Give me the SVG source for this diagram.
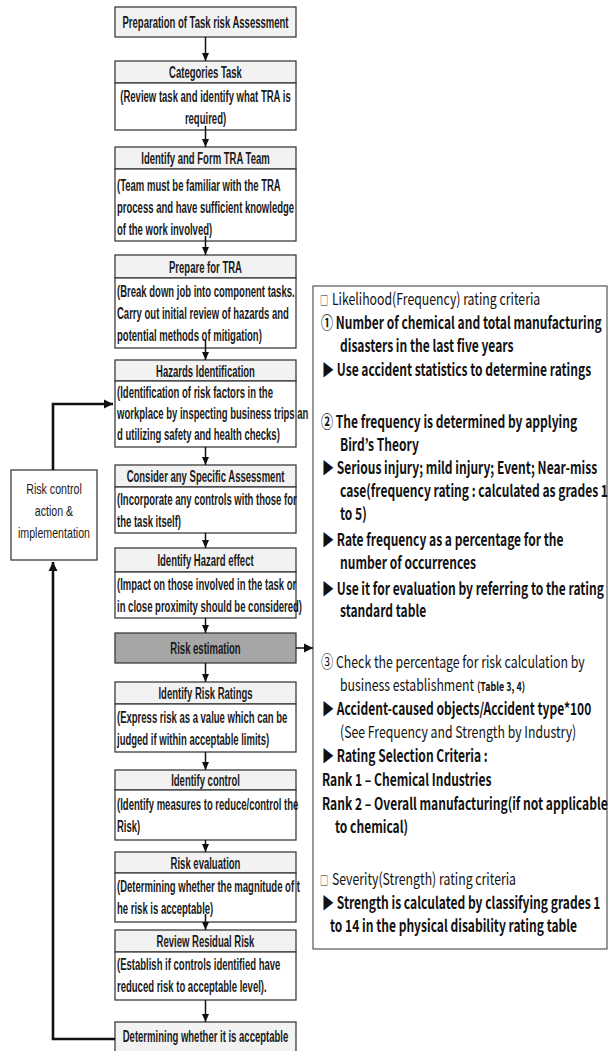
<svg xmlns="http://www.w3.org/2000/svg" width="610" height="1051" viewBox="0 0 610 1051">
<style>
.bx{fill:#ffffff;stroke:#3c3c3c;stroke-width:1.3}
.tt{fill:#f2f2f2;stroke:#3c3c3c;stroke-width:1.3}
.gr{fill:#a6a6a6;stroke:#3c3c3c;stroke-width:1.3}
.f{font-family:"Liberation Sans",Arial,sans-serif;font-size:16px;font-weight:bold;fill:#1a1a1a}
.c{text-anchor:middle;transform:matrix(.595,0,0,1,83.23,0)}
.l{transform:matrix(.595,0,0,1,47.39,0)}
.lc{font-family:"Liberation Sans",Arial,sans-serif;font-size:14px;fill:#1a1a1a;text-anchor:middle;transform:matrix(.76,0,0,1,12.96,0)}
.cn{stroke:#111;stroke-width:1.5;fill:none}
.fb{stroke:#111;stroke-width:2.6;fill:none}
.r{font-family:"Noto Sans CJK KR","Malgun Gothic",sans-serif;font-size:16.5px;fill:#111;transform-box:fill-box;transform-origin:0 0;transform:scaleX(.745)}
.b{font-weight:bold;transform:scaleX(.73)}
.sq{font-size:11px}
.sm{font-size:12px;font-weight:bold}
</style>
<defs>
<marker id="ah" markerUnits="userSpaceOnUse" markerWidth="8" markerHeight="8" refX="8" refY="4" orient="auto">
<path d="M0,0.5 L8,4 L0,7.5 z" fill="#111"/>
</marker>
<marker id="ahb" markerUnits="userSpaceOnUse" markerWidth="10" markerHeight="10" refX="9" refY="5" orient="auto">
<path d="M0,0.5 L9,5 L0,9.5 z" fill="#111"/>
</marker>
</defs>
<g id="n1">
<rect class="tt" x="115" y="7" width="181" height="30"/>
<text class="f c" x="205.5" y="28">Preparation of Task risk Assessment</text>
</g>
<g id="n2">
<rect class="tt" x="115" y="61" width="181" height="22"/>
<rect class="bx" x="115" y="83" width="181" height="47"/>
<text class="f c" x="205.5" y="78">Categories Task</text>
<text class="f c" x="205.5" y="102">(Review task and identify what TRA is</text>
<text class="f c" x="205.5" y="124">required)</text>
</g>
<g id="n3">
<rect class="tt" x="115" y="147" width="181" height="22"/>
<rect class="bx" x="115" y="169" width="181" height="72"/>
<text class="f c" x="205.5" y="164">Identify and Form TRA Team</text>
<text class="f l" x="117" y="191">(Team must be familiar with the TRA</text>
<text class="f l" x="117" y="213">process and have sufficient knowledge</text>
<text class="f l" x="117" y="235">of the work involved)</text>
</g>
<g id="n4">
<rect class="tt" x="115" y="255" width="181" height="23"/>
<rect class="bx" x="115" y="278" width="181" height="70"/>
<text class="f c" x="205.5" y="273">Prepare for TRA</text>
<text class="f l" x="117" y="297">(Break down job into component tasks.</text>
<text class="f l" x="117" y="319">Carry out initial review of hazards and</text>
<text class="f l" x="117" y="341">potential methods of mitigation)</text>
</g>
<g id="n5">
<rect class="tt" x="115" y="360" width="181" height="21"/>
<rect class="bx" x="115" y="381" width="181" height="66"/>
<text class="f c" x="205.5" y="377">Hazards Identification</text>
<text class="f l" x="117" y="398">(Identification of risk factors in the</text>
<text class="f l" x="117" y="419">workplace by inspecting business trips an</text>
<text class="f l" x="117" y="440">d utilizing safety and health checks)</text>
</g>
<g id="n6">
<rect class="tt" x="115" y="465" width="181" height="22"/>
<rect class="bx" x="115" y="487" width="181" height="46"/>
<text class="f c" x="205.5" y="482">Consider any Specific Assessment</text>
<text class="f l" x="117" y="505">(Incorporate any controls with those for</text>
<text class="f l" x="117" y="527">the task itself)</text>
</g>
<g id="n7">
<rect class="tt" x="115" y="548" width="181" height="24"/>
<rect class="bx" x="115" y="572" width="181" height="46"/>
<text class="f c" x="205.5" y="566">Identify Hazard effect</text>
<text class="f l" x="117" y="590">(Impact on those involved in the task or</text>
<text class="f l" x="117" y="612">in close proximity should be considered)</text>
</g>
<g id="n8">
<rect class="gr" x="115" y="633" width="181" height="30"/>
<text class="f c" x="205.5" y="654">Risk estimation</text>
</g>
<g id="n9">
<rect class="tt" x="115" y="682" width="181" height="22"/>
<rect class="bx" x="115" y="704" width="181" height="48"/>
<text class="f c" x="205.5" y="699">Identify Risk Ratings</text>
<text class="f l" x="117" y="723">(Express risk as a value which can be</text>
<text class="f l" x="117" y="745">judged if within acceptable limits)</text>
</g>
<g id="n10">
<rect class="tt" x="115" y="770" width="181" height="20"/>
<rect class="bx" x="115" y="790" width="181" height="50"/>
<text class="f c" x="205.5" y="786">Identify control</text>
<text class="f l" x="117" y="810">(Identify measures to reduce/control the</text>
<text class="f l" x="117" y="832">Risk)</text>
</g>
<g id="n11">
<rect class="tt" x="115" y="852" width="181" height="21"/>
<rect class="bx" x="115" y="873" width="181" height="49"/>
<text class="f c" x="205.5" y="869">Risk evaluation</text>
<text class="f l" x="117" y="892">(Determining whether the magnitude of t</text>
<text class="f l" x="117" y="914">he risk is acceptable)</text>
</g>
<g id="n12">
<rect class="tt" x="115" y="930" width="181" height="22"/>
<rect class="bx" x="115" y="952" width="181" height="48"/>
<text class="f c" x="205.5" y="947">Review Residual Risk</text>
<text class="f l" x="117" y="970">(Establish if controls identified have</text>
<text class="f l" x="117" y="992">reduced risk to acceptable level).</text>
</g>
<g id="n13">
<rect class="tt" x="115" y="1022" width="181" height="34"/>
<text class="f c" x="205.5" y="1042">Determining whether it is acceptable</text>
</g>
<g id="n14">
<rect class="bx" x="11" y="470" width="86" height="90"/>
<text class="lc" x="54" y="494">Risk control</text>
<text class="lc" x="54" y="516">action &amp;</text>
<text class="lc" x="54" y="538">implementation</text>
</g>
<g id="n15">
<rect x="313" y="286" width="294" height="663" fill="#fff" stroke="#555" stroke-width="1.2"/>
<text class="r" x="320" y="305"><tspan class="sq">□</tspan><tspan x="336">Likelihood(Frequency) rating criteria</tspan></text>
<text class="r b" x="321" y="329">① Number of chemical and total manufacturing</text>
<text class="r b" x="340" y="352">disasters in the last five years</text>
<text class="r b" x="322" y="376">▶ Use accident statistics to determine ratings</text>
<text class="r b" x="321" y="428">② The frequency is determined by applying</text>
<text class="r b" x="340" y="451">Bird’s Theory</text>
<text class="r b" x="322" y="474">▶ Serious injury; mild injury; Event; Near-miss</text>
<text class="r b" x="340" y="497">case(frequency rating : calculated as grades 1</text>
<text class="r b" x="340" y="520">to 5)</text>
<text class="r b" x="322" y="546">▶ Rate frequency as a percentage for the</text>
<text class="r b" x="340" y="569">number of occurrences</text>
<text class="r b" x="322" y="595">▶ Use it for evaluation by referring to the rating</text>
<text class="r b" x="340" y="617">standard table</text>
<text class="r" x="321" y="668">③ Check the percentage for risk calculation by</text>
<text class="r" x="340" y="691">business establishment <tspan class="sm">(Table 3, 4)</tspan></text>
<text class="r b" x="322" y="715">▶ Accident-caused objects/Accident type*100</text>
<text class="r" x="340" y="738">(See Frequency and Strength by Industry)</text>
<text class="r b" x="322" y="762">▶ Rating Selection Criteria :</text>
<text class="r b" x="322" y="786">Rank 1 – Chemical Industries</text>
<text class="r b" x="322" y="810">Rank 2 – Overall manufacturing(if not applicable</text>
<text class="r b" x="335" y="833">to chemical)</text>
<text class="r" x="320" y="885"><tspan class="sq">□</tspan><tspan x="336">Severity(Strength) rating criteria</tspan></text>
<text class="r b" x="322" y="909">▶ Strength is calculated by classifying grades 1</text>
<text class="r b" x="330" y="932">to 14 in the physical disability rating table</text>
</g>
<g id="connectors">
<line class="cn" x1="205.5" y1="37" x2="205.5" y2="61" marker-end="url(#ah)"/>
<line class="cn" x1="205.5" y1="126" x2="205.5" y2="147" marker-end="url(#ah)"/>
<line class="cn" x1="205.5" y1="236" x2="205.5" y2="255" marker-end="url(#ah)"/>
<line class="cn" x1="205.5" y1="340" x2="205.5" y2="360" marker-end="url(#ah)"/>
<line class="cn" x1="205.5" y1="447" x2="205.5" y2="465" marker-end="url(#ah)"/>
<line class="cn" x1="205.5" y1="533" x2="205.5" y2="548" marker-end="url(#ah)"/>
<line class="cn" x1="205.5" y1="618" x2="205.5" y2="633" marker-end="url(#ah)"/>
<line class="cn" x1="205.5" y1="663" x2="205.5" y2="682" marker-end="url(#ah)"/>
<line class="cn" x1="205.5" y1="752" x2="205.5" y2="770" marker-end="url(#ah)"/>
<line class="cn" x1="205.5" y1="840" x2="205.5" y2="852" marker-end="url(#ah)"/>
<line class="cn" x1="205.5" y1="914" x2="205.5" y2="930" marker-end="url(#ah)"/>
<line class="cn" x1="205.5" y1="1000" x2="205.5" y2="1022" marker-end="url(#ah)"/>
<line class="cn" x1="296" y1="648" x2="313" y2="648" stroke-width="2.6" marker-end="url(#ahb)"/>
<polyline class="fb" points="115,1039 53,1039 53,562" marker-end="url(#ahb)"/>
<polyline class="fb" points="53,470 53,404 113,404" marker-end="url(#ahb)"/>
</g>
</svg>
